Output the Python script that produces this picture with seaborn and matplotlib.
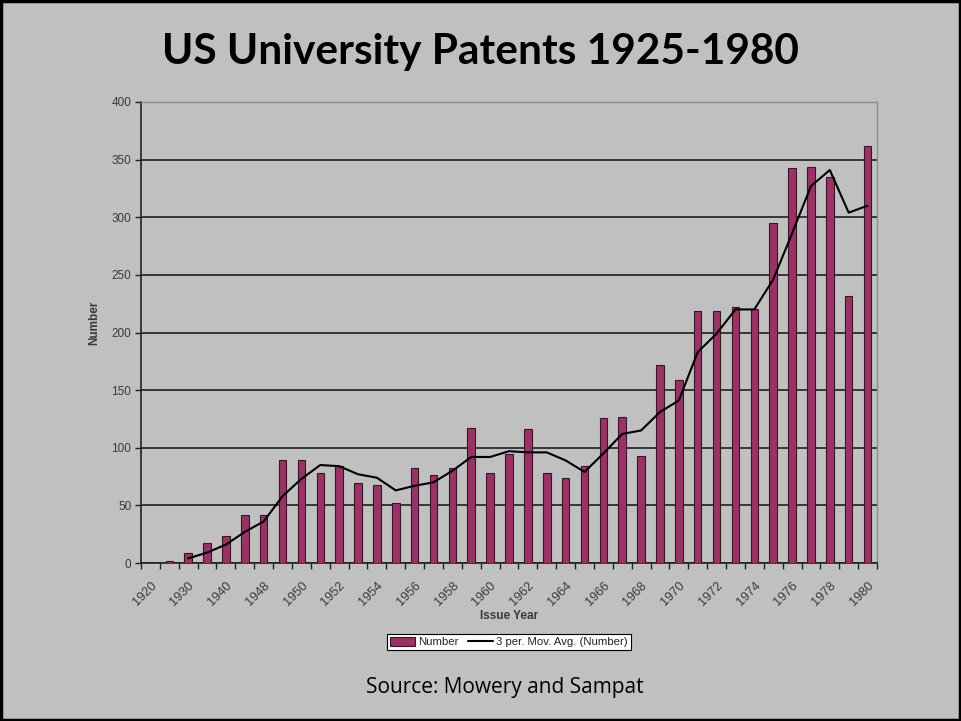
import numpy as np
import pandas as pd
import matplotlib
matplotlib.use("Agg")
import matplotlib.pyplot as plt
from matplotlib.patches import Rectangle
import seaborn as sns

# issue years (categories), only every other one gets a tick label
years = ["1920", "1925", "1930", "1935", "1940", "1945", "1948", "1949",
         "1950", "1951", "1952", "1953", "1954", "1955", "1956", "1957",
         "1958", "1959", "1960", "1961", "1962", "1963", "1964", "1965",
         "1966", "1967", "1968", "1969", "1970", "1971", "1972", "1973",
         "1974", "1975", "1976", "1977", "1978", "1979", "1980"]

# number of patents per issue year
patents = [0, 2, 9, 17, 23, 42, 42, 89, 89, 78, 84, 69, 68, 52, 82, 76,
           82, 117, 78, 95, 116, 78, 74, 84, 126, 127, 93, 172, 159, 219,
           219, 222, 220, 295, 343, 344, 335, 232, 362]

# 3 period moving average line, starts at the third category
ma_values = [4, 9, 16, 27, 36, 58, 73, 85, 84, 77, 74, 63, 67, 70, 80, 92,
             92, 97, 96, 96, 89, 79, 95, 112, 115, 131, 141, 183, 199, 220,
             220, 246, 286, 327, 341, 304, 310]

y_ticks = [0, 50, 100, 150, 200, 250, 300, 350, 400]

bg = "#c0c0c0"
bar_color = "#993366"
text_gray = "#3a3a3a"

df = pd.DataFrame({"year": years, "Number": patents})
ma_df = pd.DataFrame({"pos": np.arange(2, 2 + len(ma_values)), "ma": ma_values})

sns.set_style("white")
plt.rcParams["font.family"] = ["Liberation Sans", "DejaVu Sans"]

fig = plt.figure(figsize=(9.61, 7.21), dpi=100, facecolor=bg)
ax = fig.add_axes([141 / 961, 1 - 563 / 721, 736 / 961, 461 / 721])
ax.set_facecolor(bg)

sns.barplot(data=df, x="year", y="Number", order=years, color=bar_color,
            width=0.4, saturation=1, edgecolor="#3b1526", linewidth=0.8,
            label="Number", ax=ax, zorder=3)
sns.lineplot(data=ma_df, x="pos", y="ma", color="black", linewidth=1.5,
             label="3 per. Mov. Avg. (Number)", ax=ax, zorder=4)
handles, labels = ax.get_legend_handles_labels()
if ax.get_legend() is not None:
    ax.get_legend().remove()

ax.set_xlim(-0.5, len(years) - 0.5)
ax.set_ylim(0, 400)
ax.set_yticks(y_ticks)
ax.yaxis.grid(True, color="#2b2b2b", linewidth=1.3, zorder=1)
ax.set_axisbelow(True)

# labels on every other category, tick marks on the category borders
ax.set_xticks(np.arange(0, len(years), 2))
ax.set_xticklabels(years[::2], rotation=45, ha="right", va="top",
                   rotation_mode="anchor", fontsize=9.2, color=text_gray)
ax.set_xticks(np.arange(-0.5, len(years), 1), minor=True)
ax.tick_params(axis="x", which="major", length=0, pad=12)
ax.tick_params(axis="x", which="minor", length=4, width=1, color="#222222",
               direction="out", bottom=True)
ax.tick_params(axis="y", length=4, width=1, color="#222222", direction="out",
               labelsize=8.5, labelcolor=text_gray, left=True, pad=3)

for side in ["left", "bottom"]:
    ax.spines[side].set_color("#222222")
    ax.spines[side].set_linewidth(1.2)
for side in ["top", "right"]:
    ax.spines[side].set_visible(True)
    ax.spines[side].set_color("#8c8c8c")
    ax.spines[side].set_linewidth(1)

ax.set_xlabel("Issue Year", fontsize=8.5, fontweight="bold", color=text_gray)
ax.set_ylabel("Number", fontsize=8.5, fontweight="bold", color=text_gray)
ax.xaxis.set_label_coords(0.5, (563 - 610) / 461)
ax.yaxis.set_label_coords((100 - 141) / 736, 0.52)

# bars first, then the trend line, as in the original legend
order = [labels.index("Number"), labels.index("3 per. Mov. Avg. (Number)")]
leg = fig.legend([handles[i] for i in order], [labels[i] for i in order],
                 loc="center", bbox_to_anchor=(509 / 961, 1 - 642 / 721),
                 ncol=2, fontsize=8.2, frameon=True, fancybox=False,
                 edgecolor="black", facecolor="white", framealpha=1,
                 handlelength=2.2, handleheight=0.8, handletextpad=0.3,
                 columnspacing=0.8, borderpad=0.25, labelcolor="#222222")
leg.get_frame().set_linewidth(0.8)

fig.text(0.5, 1 - 52 / 721, "US University Patents 1925-1980",
         ha="center", va="center", fontsize=30.5, fontweight="bold",
         family=["Lato", "DejaVu Sans"], color="black")
fig.text(505 / 961, 1 - 687 / 721, "Source: Mowery and Sampat",
         ha="center", va="center", fontsize=15,
         family=["Open Sans", "DejaVu Sans"], color="black")

# slide frame
fig.add_artist(Rectangle((0.0015, 0.0015), 0.997, 0.997, transform=fig.transFigure,
                         fill=False, edgecolor="black", linewidth=2.5))

fig.savefig("out.png", dpi=100, facecolor=bg)
